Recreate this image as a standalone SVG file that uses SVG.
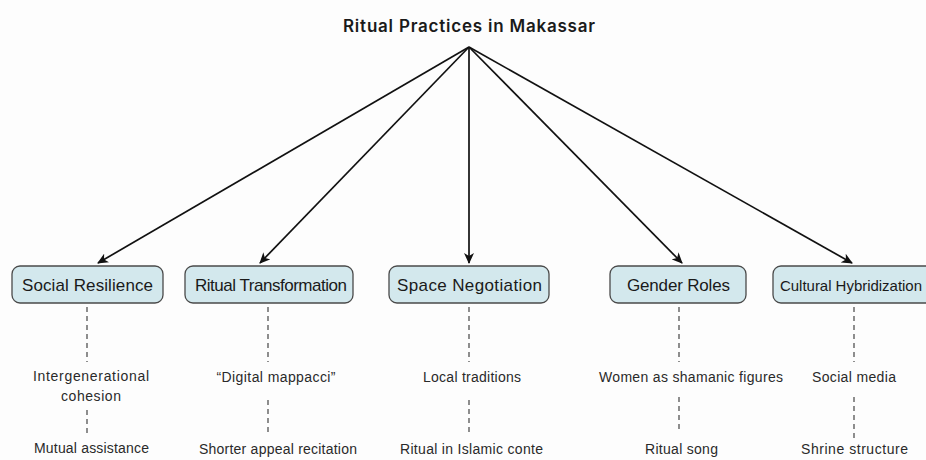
<svg xmlns="http://www.w3.org/2000/svg" width="926" height="460" viewBox="0 0 926 460">
<defs>
<marker id="ah" markerWidth="11" markerHeight="10" refX="10" refY="5" orient="auto" markerUnits="userSpaceOnUse">
<path d="M0,0 L11,5 L0,10 L3,5 Z" fill="#111"/>
</marker>
<style>
.title{font-family:Inter,"Liberation Sans",Arial,sans-serif;font-size:17px;font-weight:600;fill:#1a1a1a;text-anchor:middle}
.box{fill:#d3e8ed;stroke:#4a4a4a;stroke-width:1.3}
.lbl{font-family:"Liberation Sans",Arial,sans-serif;font-size:17px;fill:#1a1a1a;text-anchor:middle}
.sub{font-family:"Liberation Sans",Arial,sans-serif;font-size:14px;fill:#2a2a2a;text-anchor:middle}
.arr{stroke:#111;stroke-width:1.7;fill:none;marker-end:url(#ah)}
.dash{stroke:#333;stroke-width:1.1;stroke-dasharray:5,4;fill:none}
</style>
</defs>
<rect width="926" height="460" fill="#fdfdfd"/>
<text class="title" x="469" y="32" textLength="252">Ritual Practices in Makassar</text>
<g id="connectors">
<line class="arr" x1="469" y1="47" x2="98" y2="263"/>
<line class="arr" x1="469" y1="47" x2="260" y2="263"/>
<line class="arr" x1="469" y1="47" x2="469" y2="263"/>
<line class="arr" x1="469" y1="47" x2="682" y2="263"/>
<line class="arr" x1="469" y1="47" x2="852" y2="263"/>
<line class="dash" x1="87" y1="307" x2="87" y2="362"/>
<line class="dash" x1="87" y1="410" x2="87" y2="435"/>
<line class="dash" x1="268" y1="307" x2="268" y2="362"/>
<line class="dash" x1="268" y1="400" x2="268" y2="435"/>
<line class="dash" x1="469" y1="307" x2="469" y2="362"/>
<line class="dash" x1="469" y1="400" x2="469" y2="433"/>
<line class="dash" x1="679" y1="307" x2="679" y2="362"/>
<line class="dash" x1="679" y1="397" x2="679" y2="432"/>
<line class="dash" x1="854" y1="307" x2="854" y2="362"/>
<line class="dash" x1="854" y1="397" x2="854" y2="440"/>
</g>
<g id="social-resilience">
<rect class="box" x="12" y="266" width="151" height="37" rx="8"/>
<text class="lbl" x="87.5" y="291" textLength="131">Social Resilience</text>
<text class="sub" x="91" y="381" textLength="116">Intergenerational</text>
<text class="sub" x="91" y="401" textLength="60">cohesion</text>
<text class="sub" x="91.5" y="453" textLength="115">Mutual assistance</text>
</g>
<g id="ritual-transformation">
<rect class="box" x="185" y="266" width="168" height="37" rx="8"/>
<text class="lbl" x="271" y="291" textLength="152">Ritual Transformation</text>
<text class="sub" x="276" y="382" textLength="119">“Digital mappacci”</text>
<text class="sub" x="278" y="454" textLength="158">Shorter appeal recitation</text>
</g>
<g id="space-negotiation">
<rect class="box" x="389" y="266" width="160" height="37" rx="8"/>
<text class="lbl" x="469.5" y="291" textLength="145">Space Negotiation</text>
<text class="sub" x="472" y="382" textLength="98">Local traditions</text>
<text class="sub" x="471.5" y="454" textLength="143">Ritual in Islamic conte</text>
</g>
<g id="gender-roles">
<rect class="box" x="610" y="266" width="136" height="37" rx="8"/>
<text class="lbl" x="678.5" y="291" textLength="103">Gender Roles</text>
<text class="sub" x="691" y="382" textLength="184">Women as shamanic figures</text>
<text class="sub" x="681.5" y="454" textLength="73">Ritual song</text>
</g>
<g id="cultural-hybridization">
<rect class="box" x="773" y="266" width="190" height="37" rx="8"/>
<text class="lbl" x="780" y="291" textLength="142" style="text-anchor:start;font-size:15px">Cultural Hybridization</text>
<text class="sub" x="854" y="382" textLength="84">Social media</text>
<text class="sub" x="854.5" y="454" textLength="107">Shrine structure</text>
</g>
</svg>
